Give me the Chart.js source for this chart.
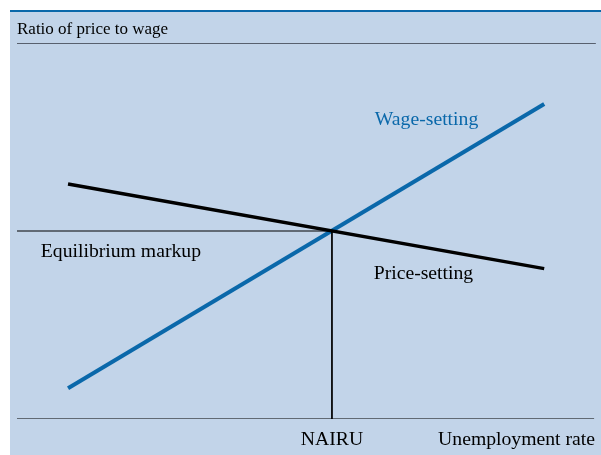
<!DOCTYPE html>
<html>
<head>
<meta charset="utf-8">
<script src="https://cdn.jsdelivr.net/npm/chart.js@4"></script>
<style>
  html, body { margin: 0; padding: 0; background: #ffffff; }
  #wrap { width: 601px; height: 455px; }
</style>
</head>
<body>
<div id="wrap"><canvas id="chart" width="601" height="455"></canvas></div>
<script>
// Schematic: both axes are 0..100 (no units)
const wageSetting = [{ x: 8.8, y: 8.2 }, { x: 90.9, y: 83.8 }];
const priceSetting = [{ x: 8.8, y: 62.5 }, { x: 90.9, y: 40.0 }];
const nairu = 54.3;
const markup = 50;

const yTitle = 'Ratio of price to wage';
const xTitle = 'Unemployment rate';
const nairuLabel = 'NAIRU';
// labels: text, x, y (data units), colour
const curveLabels = [
    { text: 'Wage-setting', x: 61.7, y: 79.6, color: '#0a68aa' },
    { text: 'Equilibrium markup', x: 4.1, y: 44.4, color: '#000000' },
    { text: 'Price-setting', x: 61.5, y: 38.5, color: '#000000' },
];

const BG = '#c2d4e9';
const FONT = '"Liberation Serif", "Times New Roman", serif';

const backdrop = {
    id: 'backdrop',
    beforeDraw(chart) {
        const ctx = chart.ctx;
        ctx.save();
        ctx.fillStyle = BG;
        ctx.fillRect(10, 12, chart.width - 10, chart.height - 12);
        ctx.fillStyle = '#0a68aa';
        ctx.fillRect(10, 10, chart.width - 10, 2);
        ctx.restore();
    }
};

const annotations = {
    id: 'annotations',
    afterDatasetsDraw(chart) {
        const ctx = chart.ctx;
        const xs = chart.scales.x, ys = chart.scales.y;
        ctx.save();
        ctx.font = '17px ' + FONT;
        ctx.fillStyle = '#000';
        ctx.textBaseline = 'alphabetic';
        ctx.textAlign = 'left';
        ctx.fillText(yTitle, xs.left, 34);

        ctx.font = '19.7px ' + FONT;
        curveLabels.forEach(l => {
            ctx.fillStyle = l.color;
            ctx.textBaseline = 'middle';
            ctx.fillText(l.text, xs.getPixelForValue(l.x), ys.getPixelForValue(l.y));
        });

        ctx.fillStyle = '#000';
        ctx.textBaseline = 'middle';
        ctx.textAlign = 'center';
        ctx.fillText(nairuLabel, xs.getPixelForValue(nairu), ys.bottom + 21);
        ctx.textAlign = 'right';
        ctx.fillText(xTitle, xs.right - 2, ys.bottom + 21);
        ctx.restore();
    }
};

new Chart(document.getElementById('chart'), {
    type: 'scatter',
    data: {
        datasets: [
            {   // header rule
                data: [{ x: 0, y: 100 }, { x: 99.8, y: 100 }],
                showLine: true, borderColor: '#58606e', borderWidth: 2, pointRadius: 0
            },
            {   // horizontal axis
                data: [{ x: 0, y: 0 }, { x: 99.5, y: 0 }],
                showLine: true, borderColor: '#000', borderWidth: 1.2, pointRadius: 0
            },
            {
                data: [{ x: 0, y: markup }, { x: nairu, y: markup }],
                showLine: true, borderColor: '#000', borderWidth: 1, pointRadius: 0
            },
            {
                data: [{ x: nairu, y: markup }, { x: nairu, y: 0 }],
                showLine: true, borderColor: '#000', borderWidth: 1, pointRadius: 0
            },
            {
                label: 'Price-setting',
                data: priceSetting,
                showLine: true, borderColor: '#000', borderWidth: 3.5, pointRadius: 0
            },
            {
                label: 'Wage-setting',
                data: wageSetting,
                showLine: true, borderColor: '#0a68aa', borderWidth: 4, pointRadius: 0
            }
        ]
    },
    options: {
        responsive: false,
        animation: false,
        layout: { padding: { left: 17, right: 4, top: 43, bottom: 36 } },
        plugins: { legend: { display: false }, tooltip: { enabled: false } },
        scales: {
            x: { type: 'linear', min: 0, max: 100, display: false },
            y: { type: 'linear', min: 0, max: 100, display: false }
        }
    },
    plugins: [backdrop, annotations]
});
</script>
</body>
</html>
